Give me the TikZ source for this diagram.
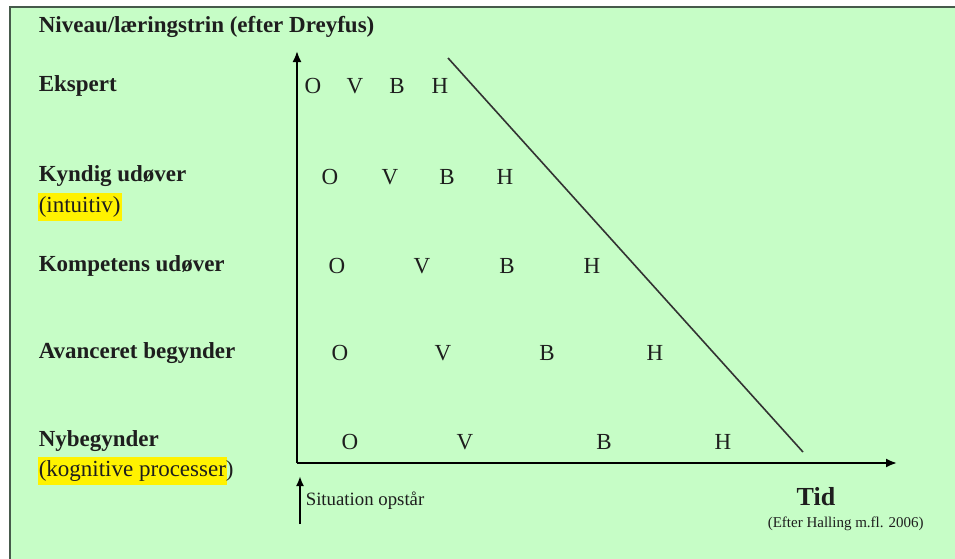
\documentclass[tikz,border=0pt]{standalone}
\usepackage{xcolor}
\usepackage{fontspec}
\setmainfont{Liberation Serif}
\usepackage{tikz}
\usetikzlibrary{calc, positioning, arrows.meta}

\definecolor{paleGreen}{RGB}{198,253,198}
\definecolor{frameGray}{RGB}{70,90,75}
\definecolor{inkGray}{RGB}{30,30,30}
\newcommand{\hlt}[1]{{\setlength{\fboxsep}{0.5pt}\colorbox{yellow}{\strut #1}}}

\begin{document}
\begin{tikzpicture}[x=0.5pt,y=-0.5pt,-,thick,
                    level/.style={anchor=west,text=inkGray,font=\fontsize{11.5}{13}\selectfont\bfseries,inner sep=0pt},
                    note/.style={anchor=west,text=inkGray,font=\fontsize{11.5}{13}\selectfont,inner sep=0pt},
                    stage/.style={text=inkGray,font=\fontsize{11.5}{13}\selectfont,inner sep=1pt},
                    axis/.style={line width=1pt,-{Latex[length=5.5pt,width=4.5pt]}}]

  \useasboundingbox (0,0) rectangle (955,558);
  \fill[white] (0,0) rectangle (955,558);
  \draw[fill=paleGreen,draw=frameGray,line width=1pt] (10,7) rectangle (965,570);

  % levels
  \node[level] (title) at (38,27) {Niveau/l\ae ringstrin (efter Dreyfus)};
  \node[level] (ekspert) at (38,86) {Ekspert};
  \node[level] (kyndig) at (38,176) {Kyndig ud\o ver};
  \node[note] (intuitiv) at (37,207) {\hlt{(intuitiv)}};
  \node[level] (kompetens) at (38,266) {Kompetens ud\o ver};
  \node[level] (avanceret) at (38,353) {Avanceret begynder};
  \node[level] (nybegynder) at (38,441) {Nybegynder};
  \node[note] (kognitiv) at (37,471) {\hlt{(kognitive processer}\kern-0.5pt)};

  % axes
  \coordinate (origin) at (297,463);
  \coordinate (ytop) at (297,51);
  \coordinate (xend) at (897,463);
  \draw[axis] (origin) -- (ytop);
  \draw[axis] (origin) -- (xend);

  \coordinate (diagtop) at (448,58);
  \coordinate (diagbot) at (803,452);
  \draw[line width=0.8pt,draw=black!80] (diagtop) -- (diagbot);

  % stages: O V B H
  \node[stage] (o1) at (313,86) {O};
  \node[stage] (v1) at (355,86) {V};
  \node[stage] (b1) at (397,86) {B};
  \node[stage] (h1) at (440,86) {H};

  \node[stage] (o2) at (330,177) {O};
  \node[stage] (v2) at (390,177) {V};
  \node[stage] (b2) at (447,177) {B};
  \node[stage] (h2) at (505,177) {H};

  \node[stage] (o3) at (337,266) {O};
  \node[stage] (v3) at (422,266) {V};
  \node[stage] (b3) at (507,266) {B};
  \node[stage] (h3) at (592,266) {H};

  \node[stage] (o4) at (340,353) {O};
  \node[stage] (v4) at (443,353) {V};
  \node[stage] (b4) at (547,353) {B};
  \node[stage] (h4) at (655,353) {H};

  \node[stage] (o5) at (350,442) {O};
  \node[stage] (v5) at (465,442) {V};
  \node[stage] (b5) at (604,442) {B};
  \node[stage] (h5) at (723,442) {H};

  % time
  \coordinate (sitfoot) at (300,524);
  \coordinate (sittip) at (300,476);
  \draw[line width=1pt,-{Latex[length=5pt,width=4pt]}] (sitfoot) -- (sittip);
  \node[anchor=west,inner sep=0pt,text=inkGray,font=\fontsize{9.4}{11}\selectfont] (situation) at (305,501) {Situation opst\aa r};

  \node[inner sep=0pt,text=inkGray,font=\fontsize{13}{15}\selectfont\bfseries] (tid) at (816,497) {Tid};
  \node[anchor=west,inner sep=0pt,text=inkGray,font=\fontsize{7.5}{9}\selectfont] (kilde) at (767,524) {(Efter Halling m.fl. 2006)};

\end{tikzpicture}
\end{document}
